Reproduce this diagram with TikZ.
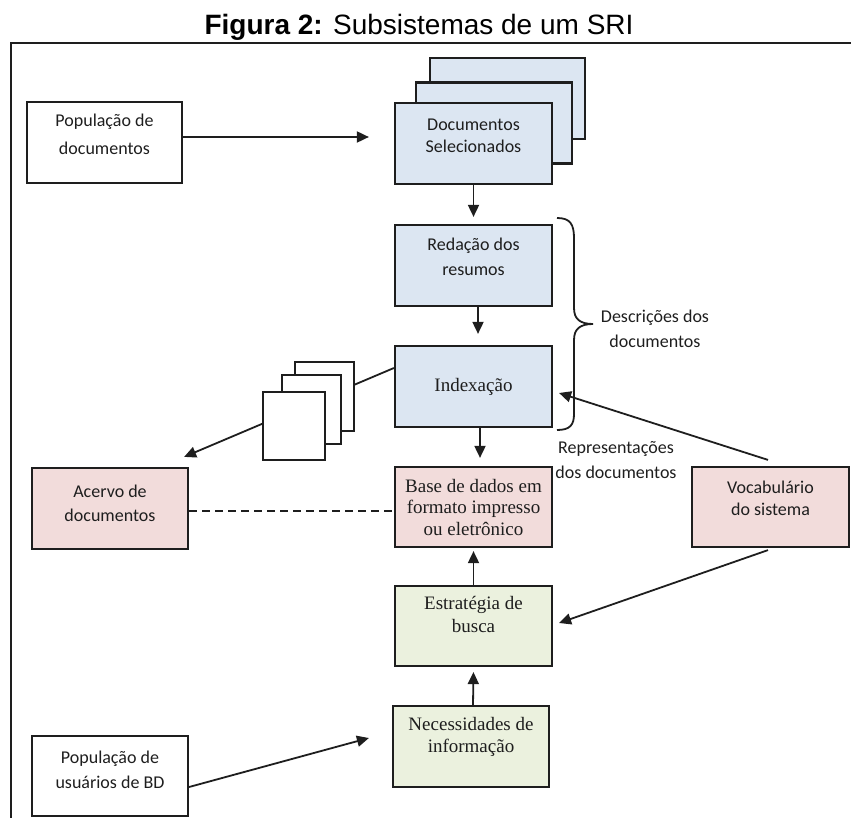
\documentclass[tikz,border=0pt]{standalone}
\usepackage{fontspec}
\setmainfont{Liberation Serif}
\newfontfamily\calibri{Carlito}
\newfontfamily\arialfont{Liberation Sans}
\usetikzlibrary{arrows.meta}

\definecolor{boxblue}{HTML}{DCE6F2}
\definecolor{boxpink}{HTML}{F2DCDB}
\definecolor{boxgreen}{HTML}{EBF1DE}
\definecolor{ink}{HTML}{1E1E1E}

% multi-line labels are anchored on the baseline of their last line
\tikzset{
  box/.style={draw=ink, line width=2.2pt, minimum width=157pt, minimum height=81pt,
              inner sep=0pt, text=ink, align=center},
  page/.style={draw=ink, line width=2pt, fill=white, inner sep=0pt,
               minimum width=59pt, minimum height=69pt},
  sanslabel/.style={font=\calibri\fontsize{18}{#1}\selectfont, text=ink,
                    align=center, anchor=base, inner sep=0pt},
  sanslabel/.default=22,
  seriflabel/.style={font=\fontsize{19}{#1}\selectfont, text=ink,
                     align=center, anchor=base, inner sep=0pt},
  seriflabel/.default=22,
  flow/.style={draw=ink, line width=1.8pt, -{Triangle[length=12pt,width=11pt]}},
  link/.style={draw=ink, line width=1.8pt},
}

\begin{document}
\begin{tikzpicture}[x=1pt,y=-1pt]
\useasboundingbox (0,0) rectangle (851,818);

% heading and frame
\node[font=\arialfont\fontsize{28}{32}\selectfont, anchor=base, inner sep=0pt]
  (title) at (419,35) {\textbf{Figura 2:} Subsistemas de um SRI};
\draw[ink, line width=2.2pt] (11,818) -- (11,42.7) -- (851,42.7);

% sources
\node[box, minimum width=155pt] (popdoc) at (104.5,142.5) {};
\node[sanslabel=28] (popdoc-t) at (104.5,155) {População de\\documentos};

\node[box, minimum width=156pt, minimum height=80pt] (popusu) at (110,776) {};
\node[sanslabel=25] (popusu-t) at (110,788) {População de\\usuários de BD};

% stack of selected documents
\node[box, fill=boxblue, minimum width=155pt] (docsel3) at (507.5,98.5) {};
\node[box, fill=boxblue, minimum width=156pt] (docsel2) at (494,123) {};
\node[box, fill=boxblue] (docsel) at (473.5,143.5) {};
\node[sanslabel] (docsel-t) at (473.5,153) {Documentos\\Selecionados};

% processing chain
\node[box, fill=boxblue] (redacao) at (473.5,265.5) {};
\node[sanslabel=25] (redacao-t) at (473.5,276) {Redação dos\\resumos};

\node[box, fill=boxblue, font=\fontsize{19}{22}\selectfont] (indexacao) at (473.5,386.5) {Indexação};

\node[box, fill=boxpink, minimum height=80pt, font=\fontsize{19}{21.5}\selectfont]
  (base) at (473.5,507) {Base de dados em\\formato impresso\\ou eletrônico};

\node[box, fill=boxgreen, minimum height=80pt] (estrategia) at (473.5,626) {};
\node[seriflabel=23] (estrategia-t) at (473.5,632) {Estratégia de\\busca};

\node[box, fill=boxgreen, minimum width=156pt] (necess) at (471,746.5) {};
\node[seriflabel] (necess-t) at (471,752) {Necessidades de\\informação};

% side boxes
\node[box, fill=boxpink, minimum height=80pt] (vocab) at (770.5,507) {};
\node[sanslabel] (vocab-t) at (770.5,515) {Vocabulário\\do sistema};

\node[box, fill=boxpink, minimum width=156pt] (acervo) at (110,508.5) {};
\node[sanslabel=24] (acervo-t) at (110,521) {Acervo de\\documentos};

% connectors
\draw[flow] ([yshift=5.5pt]popdoc.east) -- ([xshift=-25pt,yshift=6.5pt]docsel.west);
\draw[flow] (docsel.south) -- ([yshift=7pt]redacao.north);
\draw[flow] ([xshift=4.5pt]redacao.south) -- ([xshift=4.5pt,yshift=11pt]indexacao.north);
\draw[flow] ([xshift=6.5pt]indexacao.south) -- ([xshift=6.5pt,yshift=8pt]base.north);
\draw[flow] (estrategia.north) -- ([yshift=-3pt]base.south);
\draw[flow] ([xshift=2pt]necess.north) -- ([yshift=-5pt]estrategia.south);
\draw[flow] ([xshift=-2.5pt,yshift=6pt]vocab.north) -- ([xshift=6pt,yshift=-6.5pt]indexacao.east);
\draw[flow] ([xshift=-2.5pt,yshift=-2pt]vocab.south) -- ([xshift=6pt,yshift=3pt]estrategia.east);
\draw[flow] ([yshift=-11pt]popusu.east) -- ([xshift=-23pt,yshift=8.5pt]necess.west);
\draw[flow] ([yshift=18.5pt]indexacao.west) -- ([xshift=-5pt,yshift=10pt]acervo.north east);
\draw[link, dash pattern=on 8pt off 5pt] ([yshift=-2.5pt]acervo.east) -- ([yshift=-4pt]base.west);

% indexed document pages along the link to the collection
\node[page] (pg3) at (324.5,396.5) {};
\node[page] (pg2) at (311.5,409.5) {};
\node[page, minimum width=62pt, minimum height=68pt] (pg1) at (294,426) {};

% brace grouping the document descriptions
\draw[ink, line width=1.8pt]
  (557,218) .. controls (570,218) and (574,224) .. (574,238) -- (574,308)
  .. controls (574,319) and (580,324) .. (593,324)
  .. controls (580,324) and (574,329) .. (574,340) -- (574,414)
  .. controls (574,425) and (570,430) .. (557,430);
\node[sanslabel=25] (descr) at (655,347) {Descrições dos\\documentos};
\node[sanslabel=25] (repr) at (616,478) {Representações\\dos documentos};
\end{tikzpicture}
\end{document}
